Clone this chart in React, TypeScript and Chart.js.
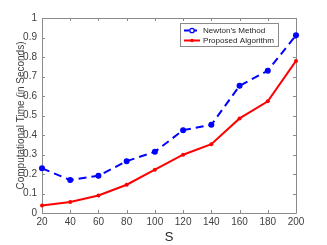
import React, { useEffect, useRef } from "react";
import { Chart, registerables } from "chart.js";

Chart.register(...registerables);

const sizes = [20, 40, 60, 80, 100, 120, 140, 160, 180, 200];
const newtonTimes = [0.229, 0.169, 0.191, 0.266, 0.314, 0.425, 0.452, 0.652, 0.73, 0.911];
const proposedTimes = [0.039, 0.056, 0.09, 0.145, 0.222, 0.299, 0.353, 0.485, 0.573, 0.78];
const yTicks = [0, 0.1, 0.2, 0.3, 0.4, 0.5, 0.6, 0.7, 0.8, 0.9, 1];
const seriesNames = ["Newton\u2019s Method", "Proposed Algorithm"];

const FONT = "'Liberation Sans', Arial, sans-serif";
const BLUE = "#0000ff";
const RED = "#ff0000";

const framePlugin = {
  id: "frame",
  beforeDatasetsDraw(chart: any) {
    const { ctx, chartArea } = chart;
    const { left, right, top, bottom } = chartArea;
    const xs = chart.scales.x;
    const ys = chart.scales.y;
    ctx.save();
    ctx.strokeStyle = "#8a8a8a";
    ctx.lineWidth = 1;
    ctx.beginPath();
    ctx.rect(Math.round(left) + 0.5, Math.round(top) + 0.5, Math.round(right - left), Math.round(bottom - top));
    ctx.stroke();
    const tl = 3;
    ctx.beginPath();
    for (const v of sizes) {
      const px = Math.round(xs.getPixelForValue(v)) + 0.5;
      ctx.moveTo(px, bottom);
      ctx.lineTo(px, bottom - tl);
      ctx.moveTo(px, top);
      ctx.lineTo(px, top + tl);
    }
    for (const v of yTicks) {
      const py = Math.round(ys.getPixelForValue(v)) + 0.5;
      ctx.moveTo(left, py);
      ctx.lineTo(left + tl, py);
      ctx.moveTo(right, py);
      ctx.lineTo(right - tl, py);
    }
    ctx.stroke();
    ctx.restore();
  },
  afterDatasetsDraw(chart: any) {
    const { ctx } = chart;
    ctx.save();
    // legend box
    const bx = 180.5, by = 23.5, bw = 98, bh = 23;
    ctx.fillStyle = "#ffffff";
    ctx.fillRect(bx, by, bw, bh);
    ctx.strokeStyle = "#8a8a8a";
    ctx.lineWidth = 1;
    ctx.strokeRect(bx, by, bw, bh);
    ctx.font = `10px ${FONT}`;
    const w10 = ctx.measureText(seriesNames[1]).width;
    const fs = Math.min(10, (10 * 71) / w10);
    const rows = [
      { y: 30.5, color: BLUE, dash: [5, 3], name: seriesNames[0], marker: "circle" },
      { y: 40.5, color: RED, dash: [], name: seriesNames[1], marker: "dot" },
    ];
    for (const r of rows) {
      ctx.strokeStyle = r.color;
      ctx.lineWidth = 2;
      ctx.setLineDash(r.dash);
      ctx.beginPath();
      ctx.moveTo(184, r.y);
      ctx.lineTo(200, r.y);
      ctx.stroke();
      ctx.setLineDash([]);
      ctx.beginPath();
      if (r.marker === "circle") {
        ctx.lineWidth = 1.3;
        ctx.arc(192, r.y, 2.2, 0, Math.PI * 2);
        ctx.fillStyle = "#ffffff";
        ctx.fill();
        ctx.stroke();
      } else {
        ctx.fillStyle = r.color;
        ctx.arc(192, r.y, 1.8, 0, Math.PI * 2);
        ctx.fill();
      }
      ctx.fillStyle = "#262626";
      ctx.font = `${fs}px ${FONT}`;
      ctx.textBaseline = "middle";
      ctx.textAlign = "left";
      ctx.fillText(r.name, 203, r.y + 0.5);
    }
    ctx.restore();
  },
};

export default function App() {
  const ref = useRef<HTMLCanvasElement | null>(null);
  useEffect(() => {
    document.body.style.margin = "0";
    const chart = new Chart(ref.current!, {
      type: "line",
      data: {
        datasets: [
          {
            label: seriesNames[0],
            data: sizes.map((s, i) => ({ x: s, y: newtonTimes[i] })),
            borderColor: BLUE,
            backgroundColor: BLUE,
            borderWidth: 2,
            borderDash: [8, 5],
            pointRadius: 2.4,
            pointBorderWidth: 1.2,
            pointBackgroundColor: BLUE,
            pointBorderColor: BLUE,
            tension: 0,
            clip: 6,
          },
          {
            label: seriesNames[1],
            data: sizes.map((s, i) => ({ x: s, y: proposedTimes[i] })),
            borderColor: RED,
            backgroundColor: RED,
            borderWidth: 2,
            pointRadius: 2,
            pointBorderWidth: 0,
            pointBackgroundColor: RED,
            tension: 0,
            clip: 6,
          },
        ],
      },
      options: {
        animation: false,
        responsive: false,
        maintainAspectRatio: false,
        layout: { padding: { left: 0, right: 31, top: 18, bottom: 0 } },
        plugins: { legend: { display: false }, tooltip: { enabled: false } },
        scales: {
          x: {
            type: "linear",
            min: 20,
            max: 200,
            afterBuildTicks: (s: any) => {
              s.ticks = sizes.map((v) => ({ value: v }));
            },
            afterFit: (s: any) => {
              s.height = 32;
            },
            grid: { display: false, drawTicks: false },
            border: { display: false },
            ticks: {
              color: "#404040",
              font: { family: FONT, size: 10 },
              padding: 3,
              maxRotation: 0,
              autoSkip: false,
            },
            title: {
              display: true,
              text: "S",
              color: "#262626",
              font: { family: FONT, size: 13, lineHeight: 1 },
              padding: { top: 0, bottom: 1 },
            },
          },
          y: {
            type: "linear",
            min: 0,
            max: 1,
            afterBuildTicks: (s: any) => {
              s.ticks = yTicks.map((v) => ({ value: v }));
            },
            afterFit: (s: any) => {
              s.width = 42;
            },
            grid: { display: false, drawTicks: false },
            border: { display: false },
            ticks: {
              color: "#404040",
              font: { family: FONT, size: 10 },
              padding: 5,
              autoSkip: false,
              callback: (v: any) => String(v),
            },
            title: {
              display: true,
              text: "Computational Time (in Seconds)",
              color: "#404040",
              font: { family: FONT, size: 10, lineHeight: 1.2 },
              padding: { top: 15, bottom: 0 },
            },
          },
        },
      },
      plugins: [framePlugin],
    });
    return () => chart.destroy();
  }, []);
  return (
    <div style={{ position: "absolute", left: 0, top: 0, width: 327, height: 245 }}>
      <canvas ref={ref} width={327} height={245} style={{ width: 327, height: 245 }} />
    </div>
  );
}
